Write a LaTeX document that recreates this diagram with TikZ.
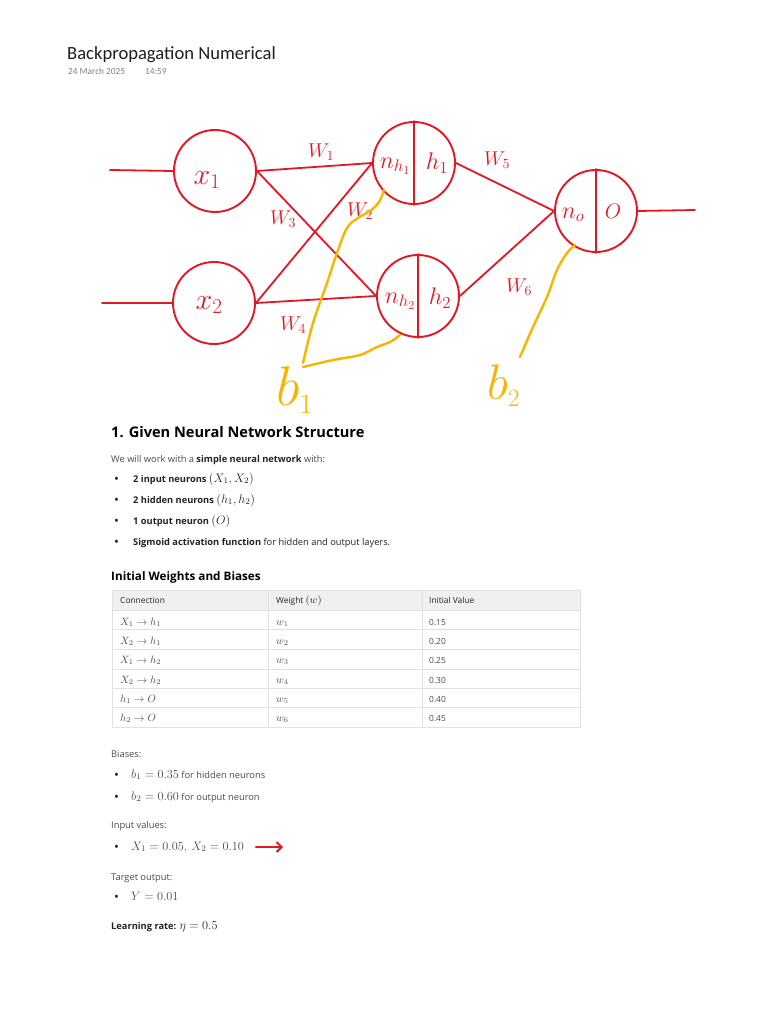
\RequirePackage{fix-cm}
\documentclass[tikz,border=0pt]{standalone}
\usepackage{fontspec}
\setmainfont{Open Sans}
\newfontfamily\titlefont{Carlito}
\usetikzlibrary{arrows.meta}
\definecolor{nred}{RGB}{226,24,36}
\definecolor{byel}{RGB}{246,182,0}
\definecolor{txt}{RGB}{35,35,35}
\definecolor{gtxt}{RGB}{75,75,75}
\definecolor{tline}{RGB}{225,225,225}
\definecolor{thead}{RGB}{240,240,240}
\newcommand{\mth}[1]{{\fontsize{12.3}{14}\selectfont$#1$}}
\newcommand{\tmth}[1]{{\fontsize{10.6}{12}\selectfont$#1$}}
\begin{document}
\begin{tikzpicture}[x=1pt,y=-1pt,
  neuron/.style={circle, draw=nred, line width=1.9pt, minimum size=82pt, inner sep=0pt},
  conn/.style={draw=nred, line width=1.8pt, line cap=round},
  hand/.style={text=nred, inner sep=0pt},
  wlab/.style={hand, font=\fontsize{20}{20}\selectfont},
  nlab/.style={hand, font=\fontsize{24}{24}\selectfont},
  bias/.style={draw=byel, line width=2.4pt, line cap=round, line join=round},
  blab/.style={text=byel, inner sep=0pt, anchor=base west},
  body/.style={anchor=base west, inner sep=0pt, text=txt, font=\fontsize{9.3}{11}\selectfont},
  gbody/.style={body, text=gtxt},
  bul/.style={anchor=base west, inner sep=0pt, text=txt, font=\fontsize{13}{13}\selectfont},
  thtext/.style={anchor=base west, inner sep=0pt, text=txt, font=\fontsize{8.4}{10}\selectfont},
  tdtext/.style={anchor=base west, inner sep=0pt, text=gtxt, font=\fontsize{8.4}{10}\selectfont},
  tgrid/.style={draw=tline, line width=0.7pt}
]
\path[use as bounding box] (0,0) rectangle (768,1024);
\fill[white] (0,0) rectangle (768,1024);

% ---------- header ----------
\node[anchor=base west, inner sep=0pt, font=\titlefont\fontsize{18.6}{21}\selectfont, text=black!88] (title) at (67,60) {Backpropagation Numerical};
\node[anchor=base west, inner sep=0pt, font=\titlefont\fontsize{9.3}{11}\selectfont, text=gray] (date) at (68,75) {24 March 2025};
\node[anchor=base west, inner sep=0pt, font=\titlefont\fontsize{9.3}{11}\selectfont, text=gray] (time) at (145,75) {14:59};

% ---------- network ----------
\node[neuron] (x1) at (215,171) {};
\node[neuron] (x2) at (214,303) {};
\node[neuron] (h1) at (414,163) {};
\node[neuron] (h2) at (418,296) {};
\node[neuron] (o)  at (596,211) {};

\draw[conn] (h1.north) -- (h1.south);
\draw[conn] (h2.north) -- (h2.south);
\draw[conn] (o.north) -- (o.south);

\coordinate (in1) at (110,170);
\coordinate (in2) at (102,303);
\coordinate (outE) at (695,210);
\draw[conn] (in1) -- (x1.west);
\draw[conn] (in2) -- (x2.west);
\draw[conn] (o.east) -- (outE);

\draw[conn] (x1.east) -- (h1.west);
\draw[conn] (x1.east) -- (h2.west);
\draw[conn] (x2.east) -- (h1.west);
\draw[conn] (x2.east) -- (h2.west);
\draw[conn] (h1.east) -- (o.west);
\draw[conn] (h2.east) -- (o.west);

% node labels
\node[hand, font=\fontsize{30}{30}\selectfont] (lx1) at (207,180) {$x_1$};
\node[hand, font=\fontsize{30}{30}\selectfont] (lx2) at (209,305) {$x_2$};
\node[nlab] (lnh1) at (395,166) {$n_{h_1}$};
\node[nlab] (lh1) at (437,163) {$h_1$};
\node[nlab] (lnh2) at (400,301) {$n_{h_2}$};
\node[nlab] (lh2) at (440,298) {$h_2$};
\node[nlab] (lno) at (573,215) {$n_o$};
\node[hand, font=\fontsize{21}{21}\selectfont] (lo) at (613,211) {$O$};

% weight labels
\node[wlab] (w1) at (321,152) {$W_1$};
\node[wlab] (w2) at (360,211) {$W_2$};
\node[wlab] (w3) at (283,219) {$W_3$};
\node[wlab] (w4) at (293,325) {$W_4$};
\node[wlab] (w5) at (497,160) {$W_5$};
\node[wlab] (w6) at (519,287) {$W_6$};

% biases
\node[blab, font=\fontsize{56}{56}\selectfont] (b1) at (276,405) {$b_{\scriptscriptstyle 1}$};
\node[blab, font=\fontsize{50}{50}\selectfont] (b2) at (487,399) {$b_{\scriptscriptstyle 2}$};
\coordinate (b1top) at (303,363);
\coordinate (b1low) at (303,367);
\coordinate (h1foot) at (384,190);
\coordinate (h2foot) at (400,335);
\coordinate (b2top) at (520,357);
\coordinate (ofoot) at (575,245);
\draw[bias] plot[smooth, tension=0.6] coordinates {(b1top) (313,323) (327,283) (337,253) (347,228) (358,218) (370,211) (379,202) (h1foot)};
\draw[bias] plot[smooth, tension=0.6] coordinates {(b1low) (333,360) (360,355) (377,347) (390,342) (h2foot)};
\draw[bias] plot[smooth, tension=0.6] coordinates {(b2top) (533,327) (547,297) (557,270) (567,253) (ofoot)};

% ---------- section 1 ----------
\node[anchor=base west, inner sep=0pt, text=black, font=\bfseries\fontsize{14.6}{17}\selectfont] (sec1) at (111,437) {1. Given Neural Network Structure};
\node[gbody] (intro) at (111,462) {We will work with a \textbf{\color{txt}simple neural network} with:};

\node[bul] (bu1) at (114,483) {\textbullet};
\node[body] (it1) at (133,482) {\textbf{2 input neurons} \mth{(X_1, X_2)}};
\node[bul] (bu2) at (114,504) {\textbullet};
\node[body] (it2) at (133,503) {\textbf{2 hidden neurons} \mth{(h_1, h_2)}};
\node[bul] (bu3) at (114,525) {\textbullet};
\node[body] (it3) at (133,524) {\textbf{1 output neuron} \mth{(O)}};
\node[bul] (bu4) at (114,546) {\textbullet};
\node[body] (it4) at (133,545) {\textbf{Sigmoid activation function} for hidden and output layers.};

\node[anchor=base west, inner sep=0pt, text=black, font=\bfseries\fontsize{11.7}{14}\selectfont] (sec2) at (111,580) {Initial Weights and Biases};

% ---------- table ----------
\fill[thead] (112,590) rectangle (580,610);
\draw[tgrid] (112,590) rectangle (580,727);
\foreach \yy in {610,629,649,669,688,707} { \draw[tgrid] (112,\yy) -- (580,\yy); }
\draw[tgrid] (268,590) -- (268,727);
\draw[tgrid] (422,590) -- (422,727);

\node[thtext] (th1) at (120,603) {Connection};
\node[thtext] (th2) at (276,603) {Weight \tmth{(w)}};
\node[thtext] (th3) at (429,603) {Initial Value};

\node[tdtext] (c1) at (120,625) {\tmth{X_1 \to h_1}};
\node[tdtext] (c2) at (120,644) {\tmth{X_2 \to h_1}};
\node[tdtext] (c3) at (120,663) {\tmth{X_1 \to h_2}};
\node[tdtext] (c4) at (120,683) {\tmth{X_2 \to h_2}};
\node[tdtext] (c5) at (120,702) {\tmth{h_1 \to O}};
\node[tdtext] (c6) at (120,721) {\tmth{h_2 \to O}};

\node[tdtext] (wv1) at (276,625) {\tmth{w_1}};
\node[tdtext] (wv2) at (276,644) {\tmth{w_2}};
\node[tdtext] (wv3) at (276,663) {\tmth{w_3}};
\node[tdtext] (wv4) at (276,683) {\tmth{w_4}};
\node[tdtext] (wv5) at (276,702) {\tmth{w_5}};
\node[tdtext] (wv6) at (276,721) {\tmth{w_6}};

\node[tdtext] (v1) at (429,625) {0.15};
\node[tdtext] (v2) at (429,644) {0.20};
\node[tdtext] (v3) at (429,663) {0.25};
\node[tdtext] (v4) at (429,683) {0.30};
\node[tdtext] (v5) at (429,702) {0.40};
\node[tdtext] (v6) at (429,721) {0.45};

% ---------- biases & inputs ----------
\node[gbody] (biases) at (111,757) {Biases:};
\node[bul] (bu5) at (114,779) {\textbullet};
\node[gbody] (bb1) at (131,778) {\mth{b_1 = 0.35} for hidden neurons};
\node[bul] (bu6) at (114,801) {\textbullet};
\node[gbody] (bb2) at (131,800) {\mth{b_2 = 0.60} for output neuron};

\node[gbody] (inputs) at (111,828) {Input values:};
\node[bul] (bu7) at (114,851) {\textbullet};
\node[gbody] (xin) at (131,850) {\mth{X_1 = 0.05,\, X_2 = 0.10}};
\coordinate (arrS) at (256,847);
\coordinate (arrE) at (283,847);
\draw[draw=nred, line width=2.3pt, line cap=round, -{Straight Barb[length=5pt, width=10pt, line width=2pt]}] (arrS) -- (arrE);

\node[gbody] (target) at (111,880) {Target output:};
\node[bul] (bu8) at (114,901) {\textbullet};
\node[gbody] (yout) at (131,900) {\mth{Y = 0.01}};

\node[body] (lr) at (111,929) {\textbf{Learning rate:} \mth{\eta = 0.5}};
\end{tikzpicture}
\end{document}
